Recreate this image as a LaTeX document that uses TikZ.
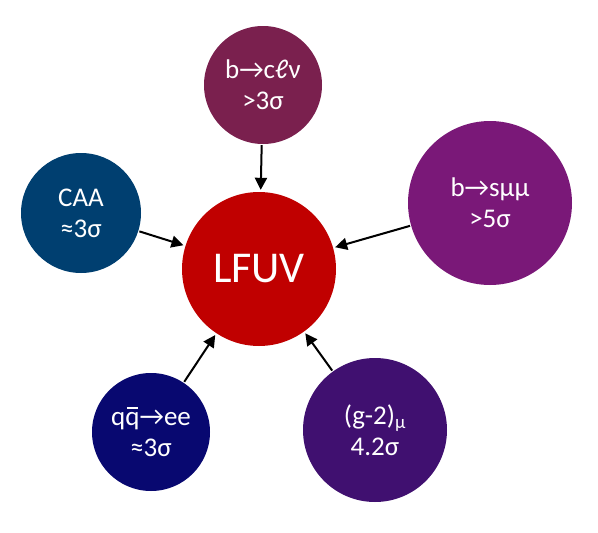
\documentclass[tikz,border=0pt]{standalone}
\usepackage{fontspec}
\setmainfont{Carlito}
\usepackage{tikz}
\usetikzlibrary{arrows.meta}

\definecolor{lfured}{RGB}{192,0,0}
\definecolor{bcplum}{RGB}{122,32,78}
\definecolor{caablue}{RGB}{0,63,112}
\definecolor{bspurple}{RGB}{122,24,120}
\definecolor{qqnavy}{RGB}{8,8,112}
\definecolor{gmviolet}{RGB}{64,16,112}

% q mit Strich
\newcommand{\qbar}{\rlap{q}\kern0.06em\rule[0.64em]{0.41em}{0.06em}\kern0.06em}

\begin{document}
\begin{tikzpicture}[x=1pt, y=-1pt,
    blob/.style={circle, inner sep=0pt, text=white, align=center,
      font=\fontsize{27}{31}\selectfont},
    arr/.style={-{Triangle[length=12pt, width=12pt]}, line width=2pt,
      shorten <=1pt, shorten >=2pt}]
    % Rahmen wie im Original
    \useasboundingbox (0,0) rectangle (598,533);

    % zentraler Kreis
    \node[blob, fill=lfured, minimum size=154pt,
      font=\fontsize{44}{50}\selectfont] (lfuv) at (259,269) {LFUV};

    % die Anomalien rundherum
    \node[blob, fill=bcplum, minimum size=118pt] (bclnu) at (263,85)
      {b→cℓν\\>3σ};
    \node[blob, fill=caablue, minimum size=120pt] (caa) at (81,213)
      {CAA\\≈3σ};
    \node[blob, fill=bspurple, minimum size=164pt] (bsmumu) at (490,203)
      {b→sμμ\\>5σ};
    \node[blob, fill=qqnavy, minimum size=118pt] (qqee) at (151,432)
      {q\qbar→ee\\≈3σ};
    \node[blob, fill=gmviolet, minimum size=144pt] (gmu) at (375,430)
      {(g-2)\textsubscript{μ}\\4.2σ};

    % Pfeile zur Mitte
    \foreach \src in {bclnu,caa,bsmumu,qqee,gmu} {
      \draw[arr] (\src) -- (lfuv);
    }
\end{tikzpicture}
\end{document}
